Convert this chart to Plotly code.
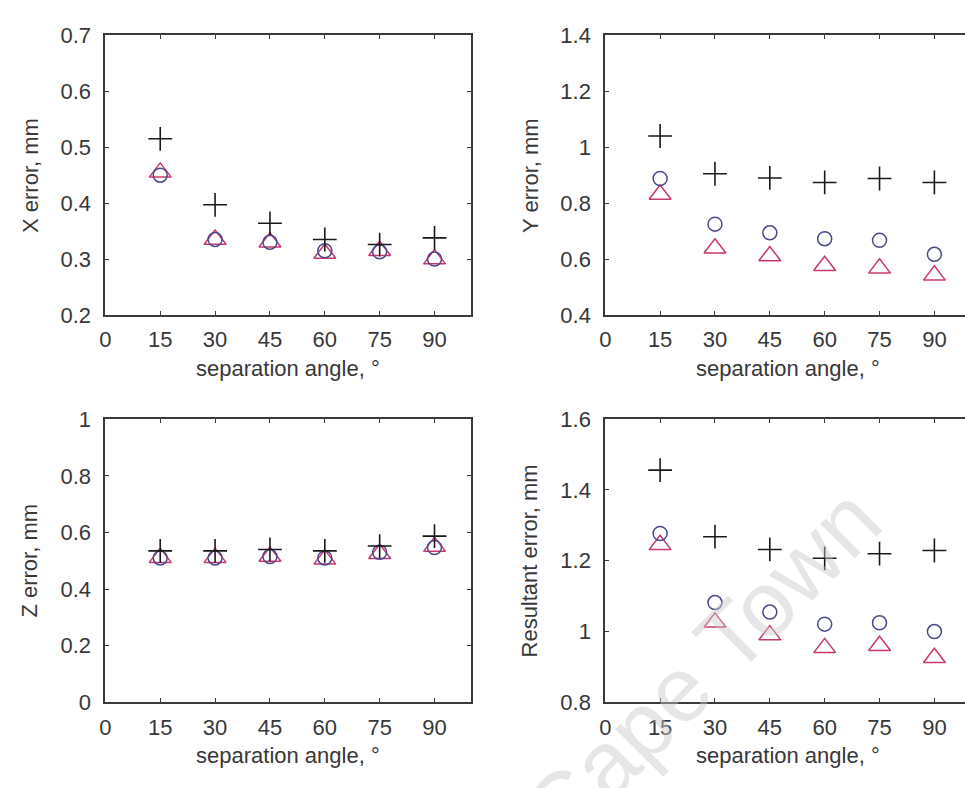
import plotly.graph_objects as go
from plotly.subplots import make_subplots

W, H = 965, 788

angles = [15, 30, 45, 60, 75, 90]
x_ticks = [0, 15, 30, 45, 60, 75, 90]

# X error (mm)
x_plus = [0.515, 0.397, 0.364, 0.335, 0.326, 0.338]
x_circ = [0.450, 0.335, 0.330, 0.315, 0.313, 0.300]
x_tri = [0.455, 0.335, 0.330, 0.310, 0.315, 0.300]

# Y error (mm)
y_plus = [1.040, 0.905, 0.890, 0.874, 0.888, 0.874]
y_circ = [0.888, 0.725, 0.694, 0.673, 0.667, 0.617]
y_tri = [0.831, 0.639, 0.611, 0.576, 0.567, 0.542]

# Z error (mm)
z_plus = [0.535, 0.535, 0.540, 0.535, 0.552, 0.587]
z_circ = [0.510, 0.510, 0.515, 0.510, 0.530, 0.547]
z_tri = [0.511, 0.511, 0.515, 0.505, 0.525, 0.550]

# Resultant error (mm)
r_plus = [1.456, 1.268, 1.232, 1.207, 1.220, 1.229]
r_circ = [1.277, 1.082, 1.055, 1.021, 1.025, 1.000]
r_tri = [1.245, 1.026, 0.990, 0.954, 0.960, 0.926]

panels = [
    (x_plus, x_circ, x_tri, "X error, mm", [0.2, 0.7], 0.1),
    (y_plus, y_circ, y_tri, "Y error, mm", [0.4, 1.4], 0.2),
    (z_plus, z_circ, z_tri, "Z error, mm", [0.0, 1.0], 0.2),
    (r_plus, r_circ, r_tri, "Resultant error, mm", [0.8, 1.6], 0.2),
]

PLUS_C = "#1a1a1a"
CIRC_C = "#4a4a8a"
TRI_C = "#c8386e"
TEXT_C = "#383838"
AXIS_C = "#3a3a3a"
FONT = "Liberation Sans, Arial, sans-serif"

# pixel boxes (left, right, top, bottom)
boxes = [(100, 468, 24, 313), (603, 965, 24, 313),
         (100, 468, 420.5, 713), (603, 965, 420.5, 713)]
px_per_unit = (468 - 100) / 100.0

fig = go.Figure()
for i, (pp, cc, tt, ytitle, yr, dy) in enumerate(panels):
    l, r, t, b = boxes[i]
    xa = "x" if i == 0 else f"x{i+1}"
    ya = "y" if i == 0 else f"y{i+1}"
    fig.add_trace(go.Scatter(x=angles, y=tt, mode="markers", xaxis=xa, yaxis=ya,
                             marker=dict(symbol="triangle-up-open", size=19, color=TRI_C,
                                         line=dict(width=1.5, color=TRI_C)), showlegend=False))
    fig.add_trace(go.Scatter(x=angles, y=cc, mode="markers", xaxis=xa, yaxis=ya,
                             marker=dict(symbol="circle-open", size=14, color=CIRC_C,
                                         line=dict(width=1.5, color=CIRC_C)), showlegend=False))
    fig.add_trace(go.Scatter(x=angles, y=pp, mode="markers", xaxis=xa, yaxis=ya,
                             marker=dict(symbol="cross-thin-open", size=17, color=PLUS_C,
                                         line=dict(width=1.6, color=PLUS_C)), showlegend=False))
    xmax = (r - l) / px_per_unit
    right_side = i in (1, 3)
    xkey = "xaxis" if i == 0 else f"xaxis{i+1}"
    ykey = "yaxis" if i == 0 else f"yaxis{i+1}"
    fig.update_layout(**{
        xkey: dict(domain=[l / W, r / W], anchor=ya, range=[0, xmax],
                   tickmode="array", tickvals=x_ticks, ticktext=[str(v) for v in x_ticks],
                   ticks="inside", ticklen=4, tickcolor=AXIS_C, tickwidth=1.2,
                   showline=True, linecolor=AXIS_C, linewidth=1.8, mirror="allticks",
                   showgrid=False, zeroline=False, ticklabelstandoff=4,
                   tickfont=dict(family=FONT, size=22, color=TEXT_C)),
        ykey: dict(domain=[1 - b / H, 1 - t / H], anchor=xa, range=yr, dtick=dy, tick0=0,
                   ticks="inside", ticklen=4, tickcolor=AXIS_C, tickwidth=1.2,
                   showline=True, linecolor=AXIS_C, linewidth=1.8,
                   mirror=False if right_side else "allticks",
                   showgrid=False, zeroline=False, ticklabelstandoff=8,
                   tickfont=dict(family=FONT, size=22, color=TEXT_C)),
    })
    # axis titles
    xc = (l + (l + 100 * px_per_unit)) / 2 if right_side else (l + r) / 2
    fig.add_annotation(text="separation angle, °", xref="paper", yref="paper",
                       x=((l + 368 / 2) if True else xc) / W, y=1 - (b + 55) / H,
                       showarrow=False, xanchor="center", yanchor="middle",
                       font=dict(family=FONT, size=22, color=TEXT_C))
    fig.add_annotation(text=ytitle, xref="paper", yref="paper",
                       x=(l - 76) / W, y=1 - ((t + b) / 2) / H, textangle=-90,
                       showarrow=False, xanchor="center", yanchor="middle",
                       font=dict(family=FONT, size=22, color=TEXT_C))

# faint watermark
fig.add_annotation(text="Cape Town", xref="paper", yref="paper",
                   x=700 / W, y=1 - 675 / H, textangle=-45, showarrow=False,
                   xanchor="center", yanchor="middle",
                   font=dict(family=FONT, size=92, color="rgba(200,200,200,0.45)"))

fig.update_layout(width=W, height=H, margin=dict(l=0, r=0, t=0, b=0),
                  paper_bgcolor="white", plot_bgcolor="white", showlegend=False)
fig.write_html("out.html")
